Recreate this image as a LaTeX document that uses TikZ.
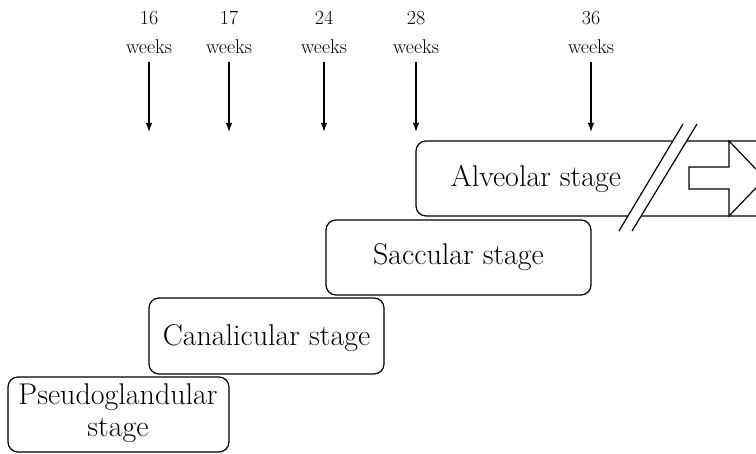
\documentclass[tikz,border=0pt]{standalone}
\usepackage{fontspec}
\usetikzlibrary{arrows.meta}
\begin{document}
\begin{tikzpicture}[x=1pt,y=-1pt,
  stagebox/.style={draw,line width=1.2pt,rounded corners=10pt},
  stagetext/.style={font=\fontsize{30}{32}\selectfont,inner sep=0pt,align=center},
  weektext/.style={font=\fontsize{20}{29}\selectfont,inner sep=0pt,align=center},
  weekarrow/.style={line width=1.3pt,-{Latex[length=9pt,width=6.5pt]}}]
\clip (0,0) rectangle (756,454);
\fill[white] (0,0) rectangle (756,454);
% boxes
\draw[stagebox] (8,377) rectangle (229,452);
\node[stagetext,anchor=base] (pseudo) at (118,437) {Pseudoglandular\\stage};
\draw[stagebox] (149,298) rectangle (384,374);
\node[stagetext,anchor=base] (canal) at (266.5,346) {Canalicular stage};
\draw[stagebox] (326,220) rectangle (591,295);
\node[stagetext,anchor=base] (sacc) at (458.5,265) {Saccular stage};
\draw[stagebox] (416,141) rectangle (800,216);
\node[stagetext,anchor=base] (alv) at (536,187) {Alveolar stage};
% block arrow
\draw[line width=1.2pt,fill=white,line join=miter]
  (689,167) -- (729,167) -- (729,141) -- (765,178.5) -- (729,216) -- (729,189) -- (689,189) -- cycle;
% break marks
\fill[white] (683,124) -- (697,124) -- (632,231) -- (619,231) -- cycle;
\draw[line width=1.2pt] (683,124) -- (619,231);
\draw[line width=1.2pt] (697,124) -- (632,231);
% week labels and arrows
\foreach \n/\x/\w in {a/149/16, b/229/17, c/324/24, d/416/28, e/591/36}{
  \node[weektext,anchor=base] (w\n) at (\x,54) {\w\\weeks};
  \coordinate (t\n) at (\x,132);
  \draw[weekarrow] (\x,62) -- (t\n);
}
\end{tikzpicture}
\end{document}
